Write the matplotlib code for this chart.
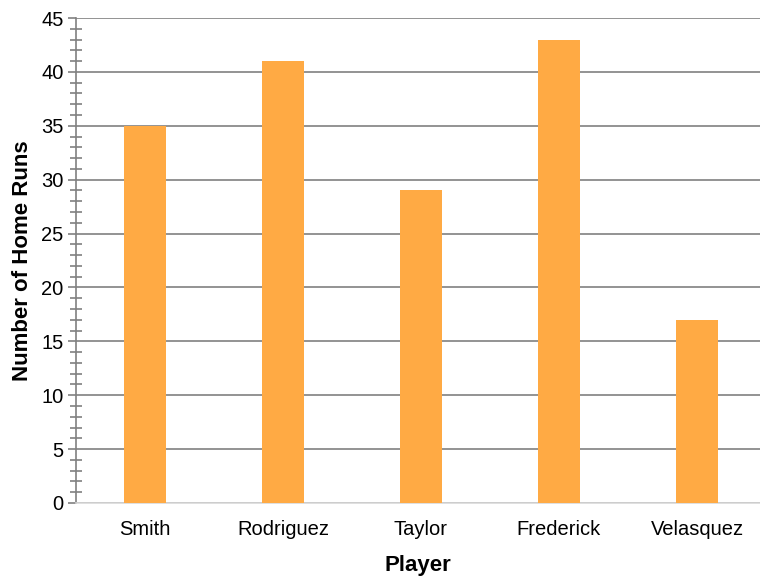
import matplotlib
matplotlib.use('Agg')
import matplotlib.pyplot as plt
from matplotlib.ticker import MultipleLocator

players = ['Smith', 'Rodriguez', 'Taylor', 'Frederick', 'Velasquez']
home_runs = [35, 41, 29, 43, 17]

plt.rcParams['font.family'] = ['Liberation Sans', 'DejaVu Sans']

fig = plt.figure(figsize=(7.6, 5.78), dpi=100)
ax = fig.add_axes([76 / 760, 75 / 578, 684 / 760, 485 / 578])

x = list(range(len(players)))
ax.bar(x, home_runs, width=0.31, color='#FFAA44', zorder=3)

ax.set_ylim(0, 45)
ax.set_xlim(-0.5, 684 / 138 - 0.5)
ax.yaxis.set_major_locator(MultipleLocator(5))
ax.yaxis.set_minor_locator(MultipleLocator(1))
ax.grid(axis='y', which='major', color='#808080', linewidth=1.2, zorder=0)

ax.set_xticks(x)
ax.set_xticklabels(players)
ax.tick_params(axis='x', length=0, labelsize=14.5, pad=12)
ax.tick_params(axis='y', which='major', length=6, width=1.2, color='#808080',
               labelsize=14.5, pad=3)
ax.tick_params(axis='y', which='minor', length=8, width=1.2, color='#808080',
               direction='inout')

for side in ['top', 'right']:
    ax.spines[side].set_visible(False)
ax.spines['left'].set_color('#808080')
ax.spines['left'].set_linewidth(1.2)
ax.spines['bottom'].set_color('#d9d9d9')
ax.spines['bottom'].set_linewidth(1.2)

ax.set_xlabel('Player', fontsize=16, fontweight='bold', labelpad=12)
ax.set_ylabel('Number of Home Runs', fontsize=16, fontweight='bold', labelpad=6)

fig.savefig('out.png', dpi=100)
